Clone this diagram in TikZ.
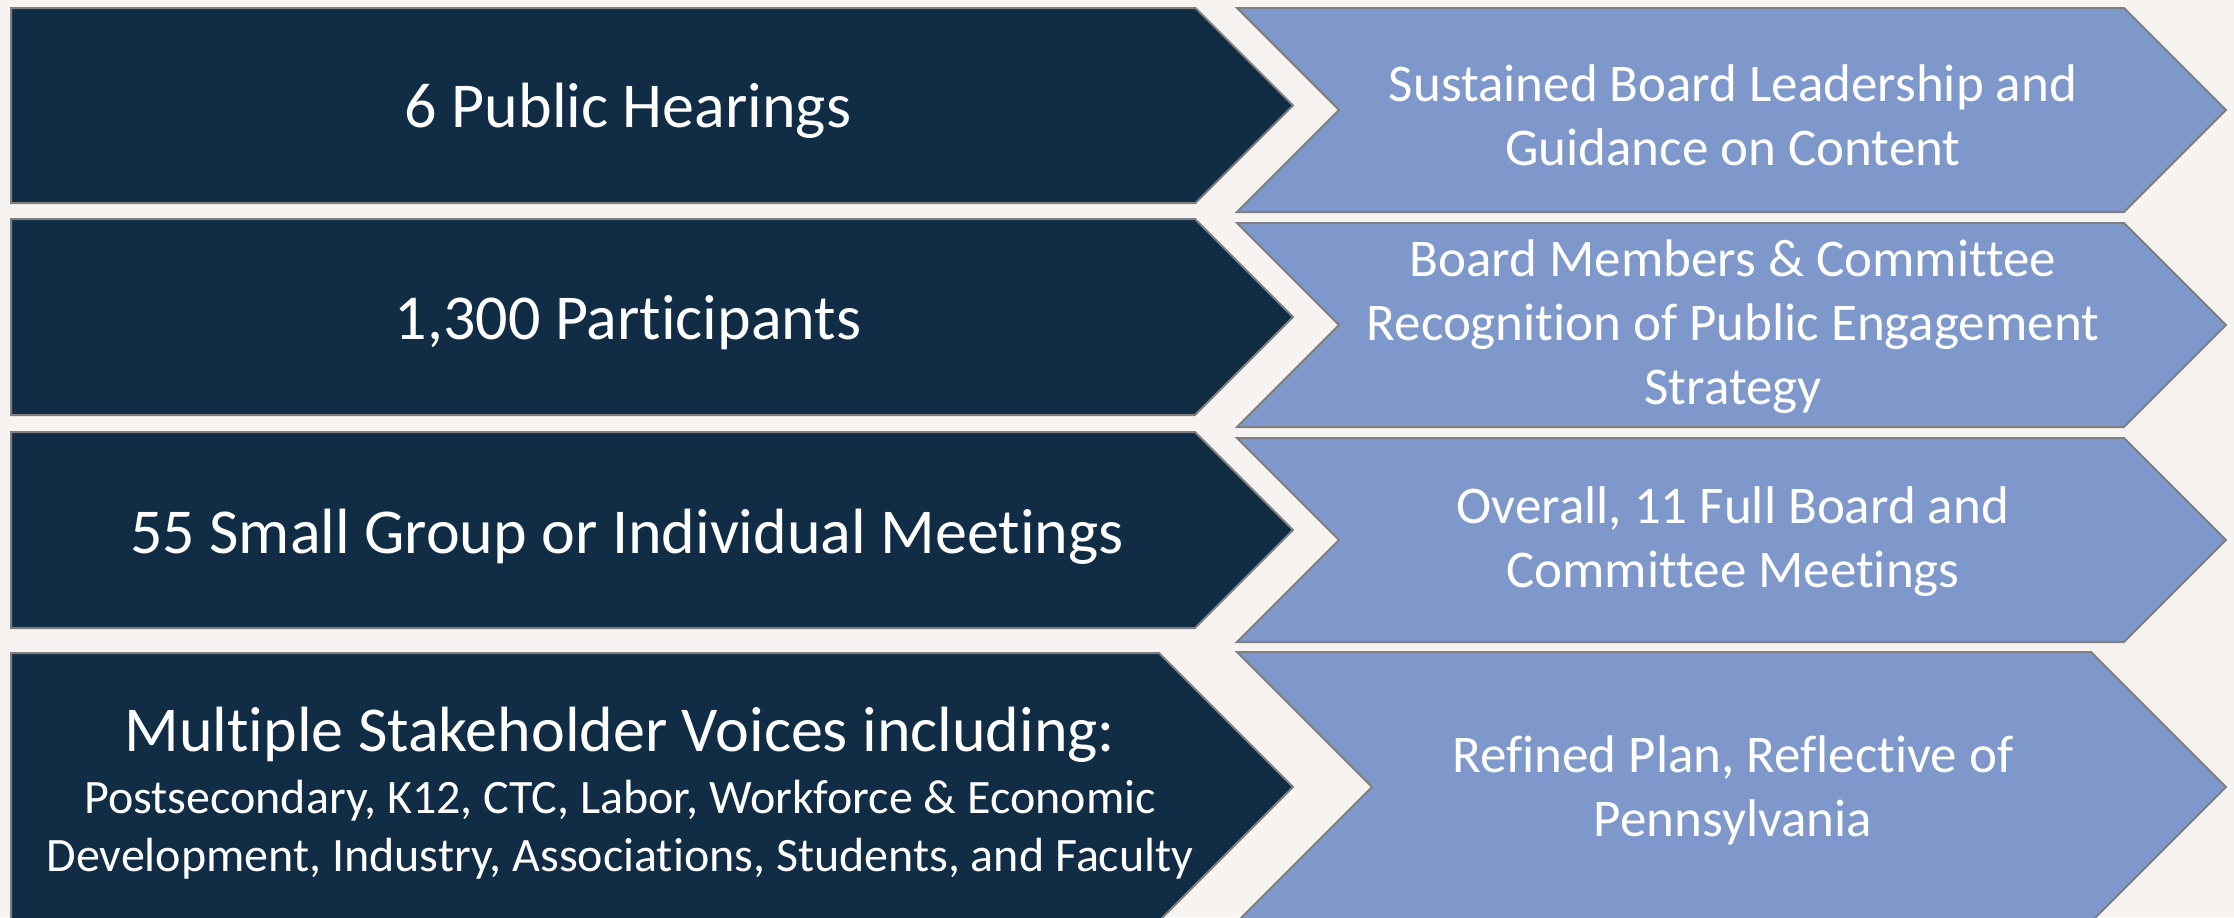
\documentclass[tikz,border=0pt]{standalone}
\usepackage{fontspec}
\setmainfont{Carlito}[Ligatures={NoCommon,NoRare,NoContextual}]
\definecolor{navy}{HTML}{112D46}
\definecolor{steel}{HTML}{7F98CB}
\definecolor{paper}{HTML}{F6F3F0}
\definecolor{edgegray}{HTML}{7F7F7F}
\begin{document}
\begin{tikzpicture}[x=0.5pt, y=-0.5pt,
    darkarrow/.style={fill=navy, draw=edgegray, line width=1pt},
    lightarrow/.style={fill=steel, draw=edgegray, line width=1pt},
    bigtext/.style={text=white, align=center, font=\fontsize{32}{36}\selectfont},
    sidetext/.style={text=white, align=center, font=\fontsize{26.5}{32}\selectfont},
    listtext/.style={text=white, align=center, font=\fontsize{24}{29}\selectfont}]
	\useasboundingbox (0,0) rectangle (2234,917);
	\fill[paper] (0,0) rectangle (2234,917);
	\clip (0,0) rectangle (2234,917);
	% left column, pointed on the right
	\foreach \t/\b in {8/203, 219/415, 432/628, 653/921}
		\draw[darkarrow] (11,\t) -- ({1293-(\b-\t)/2},\t) -- (1293,{(\t+\b)/2})
			-- ({1293-(\b-\t)/2},\b) -- (11,\b) -- cycle;
	% right column, notched on the left
	\foreach \t/\b in {8/212, 223/427, 438/642, 652/922}
		\draw[lightarrow] (1237,\t) -- ({2226-(\b-\t)/2},\t) -- (2226,{(\t+\b)/2})
			-- ({2226-(\b-\t)/2},\b) -- (1237,\b) -- ({1237+(\b-\t)/2},{(\t+\b)/2}) -- cycle;
	\node[bigtext] (hearings) at (628,111) {6 Public Hearings};
	\node[bigtext] (participants) at (628,323) {1,300 Participants};
	\node[bigtext] (meetings) at (627,537) {55 Small Group or Individual Meetings};
	\node[listtext] (voices) at (620,793) {{\fontsize{32}{36}\selectfont Multiple Stakeholder Voices including:}\\[2pt]
		Postsecondary, K12, CTC, Labor, Workforce \& Economic\\
		Development, Industry, Associations, Students, and Faculty};
	\node[sidetext] (leadership) at (1733,115) {Sustained Board Leadership and\\Guidance on Content};
	\node[sidetext] (recognition) at (1733,327) {Board Members \& Committee\\Recognition of Public Engagement\\Strategy};
	\node[sidetext] (boardmeetings) at (1733,542) {Overall, 11 Full Board and\\Committee Meetings};
	\node[sidetext] (plan) at (1733,790) {Refined Plan, Reflective of\\Pennsylvania};
\end{tikzpicture}
\end{document}
